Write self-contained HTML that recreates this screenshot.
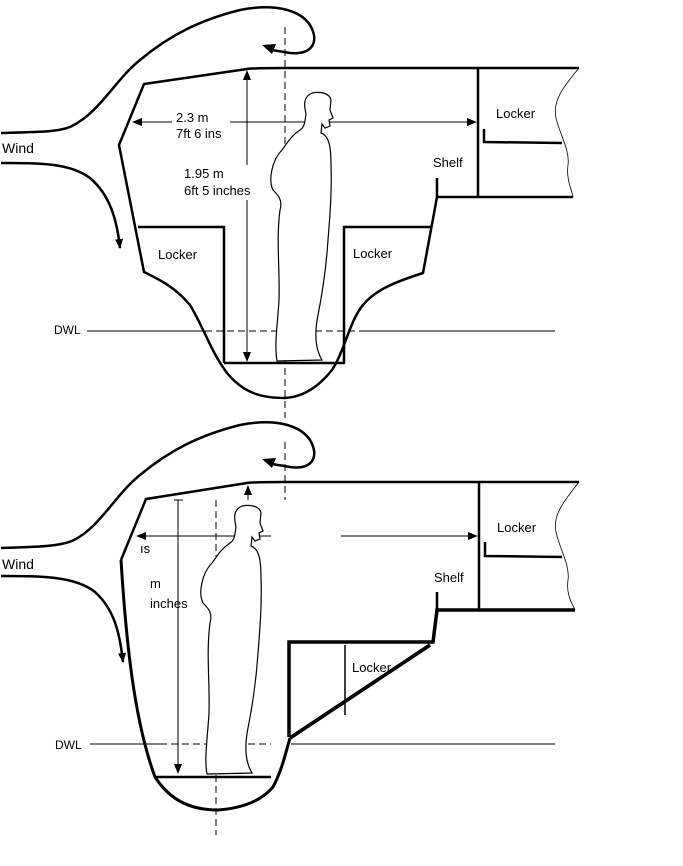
<!DOCTYPE html>
<html><head><meta charset="utf-8"><style>
html,body{margin:0;padding:0;background:#fff;}
svg{display:block;}
text{font-family:"Liberation Sans",Arial,sans-serif;font-size:13px;fill:#000;}
</style></head><body>
<svg width="683" height="866" viewBox="0 0 683 866" xmlns="http://www.w3.org/2000/svg">
<defs>
<marker id="ah" markerWidth="10" markerHeight="8" refX="9" refY="4" orient="auto" markerUnits="userSpaceOnUse">
<path d="M0,0 L10,4 L0,8 Z" fill="#000"/></marker>
<path id="person" d="M312 93 C322 91 330 94 331 100 L330 110 L333 118 L329 120 L330 126 L325 128 L322 124 L321 133 C330 136 331 150 331 165 C332 190 330 215 328 240 C326 270 322 295 318 315 C314 335 316 350 322 360 L277 361 C274 345 278 320 279 300 C280 270 276 240 280 210 C283 200 278 195 273 190 C268 180 272 160 282 150 C288 142 291 136 300 130 C305 127 305 120 306 114 C304 105 303 97 312 93 Z" fill="#fff" stroke="#000" stroke-width="1.2"/>
</defs>

<g fill="none" stroke="#000">
<line x1="285" y1="27" x2="285" y2="418" stroke-width="1" stroke-dasharray="7,4"/>
<path d="M1 133 C40 132 60 132 72 126 C100 112 115 80 140 60 C170 35 200 20 240 10 C275 3 300 10 310 25 C320 42 312 55 290 53 L272 50" stroke-width="2.5"/>
<path d="M262 45 L276 44 L272 54 Z" fill="#000" stroke="none"/>
<path d="M1 163 C40 163 70 163 90 178 C110 195 117 220 120 248" stroke-width="2.5" marker-end="url(#ah)"/>
<path d="M579 68 L284 68 C270 68 255 68 247 69 L144 84 L119 145 L144 272 C160 280 175 287 190 305 C205 330 210 350 227 373 C245 395 265 398 285 398 C305 397 320 385 332 370 C345 350 350 320 363 305 C375 290 395 282 423 273 L437 197 L573 197" stroke-width="2.5"/>
<path d="M437 178 L437 197" stroke-width="2.5"/>
<line x1="478" y1="68" x2="478" y2="197" stroke-width="2.5"/>
<path d="M484 129 L484 142 L562 143" stroke-width="2.5"/>
<path d="M579 68 C565 85 552 100 556 118 C560 135 570 150 568 165 C566 180 572 190 573 197" stroke-width="0.8"/>
<path d="M138 227 L224 227 L224 363" stroke-width="2.5"/>
<path d="M431 227 L344 227 L344 363" stroke-width="2.5"/>
<line x1="224" y1="363" x2="345" y2="363" stroke-width="2.5"/>
<line x1="87" y1="331" x2="205" y2="331" stroke-width="1"/>
<line x1="205" y1="331" x2="363" y2="331" stroke-width="1" stroke-dasharray="7,4"/>
<line x1="363" y1="331" x2="555" y2="331" stroke-width="1"/>
<line x1="172" y1="122" x2="133" y2="122" stroke-width="1" marker-end="url(#ah)"/>
<line x1="230" y1="122" x2="476" y2="122" stroke-width="1" marker-end="url(#ah)"/>
<line x1="247" y1="165" x2="247" y2="71" stroke-width="1" marker-end="url(#ah)"/>
<line x1="247" y1="200" x2="247" y2="361" stroke-width="1" marker-end="url(#ah)"/>
</g>
<use href="#person"/>
<text x="176" y="122">2.3 m</text>
<text x="176" y="138">7ft 6 ins</text>
<text x="184" y="178">1.95 m</text>
<text x="184" y="195">6ft 5 inches</text>
<text x="496" y="118">Locker</text>
<text x="433" y="167">Shelf</text>
<text x="158" y="259">Locker</text>
<text x="353" y="258">Locker</text>
<text x="2" y="153" style="font-size:14px">Wind</text>
<text x="54" y="334" style="font-size:12px">DWL</text>

<g fill="none" stroke="#000">
<line x1="285" y1="442" x2="285" y2="500" stroke-width="1" stroke-dasharray="7,4"/>
<line x1="216" y1="500" x2="216" y2="835" stroke-width="1" stroke-dasharray="7,4"/>
<path d="M1 548 C40 547 62 546 74 540 C100 527 115 495 140 475 C170 450 200 435 240 425 C275 418 300 425 310 440 C320 457 312 470 290 467 L272 464" stroke-width="2.5"/>
<path d="M262 459 L276 458 L272 468 Z" fill="#000" stroke="none"/>
<path d="M1 576 C40 576 75 576 95 592 C115 610 120 635 123 662" stroke-width="2.5" marker-end="url(#ah)"/>
<path d="M579 482 L284 482 C270 482 255 482 247 483 L146 499 L121 560" stroke-width="2.5"/>
<path d="M121 560 C126 640 134 720 155 777 C170 800 190 810 218 810 C245 808 262 800 273 787 C282 770 285 755 290 738" stroke-width="3"/>
<path d="M290 738 L430 645 M289 737 L289 642 L433 642 L437 610 L575 610" stroke-width="3.5"/>
<path d="M437 592 L437 610" stroke-width="2.5"/>
<line x1="479" y1="482" x2="479" y2="610" stroke-width="2.5"/>
<path d="M485 542 L485 556 L562 557" stroke-width="2.5"/>
<path d="M579 482 C565 500 552 515 556 532 C560 550 570 565 568 580 C566 595 572 603 575 610" stroke-width="0.8"/>
<line x1="345" y1="645" x2="345" y2="715" stroke-width="1.5"/>
<line x1="155" y1="777" x2="271" y2="777" stroke-width="2.5"/>
<line x1="90" y1="744" x2="160" y2="744" stroke-width="1"/>
<line x1="160" y1="744" x2="271" y2="744" stroke-width="1" stroke-dasharray="7,4"/>
<line x1="291" y1="744" x2="555" y2="744" stroke-width="1"/>
<line x1="271" y1="536" x2="137" y2="536" stroke-width="1" marker-end="url(#ah)"/>
<line x1="341" y1="536" x2="477" y2="536" stroke-width="1" marker-end="url(#ah)"/>
<line x1="178" y1="500" x2="178" y2="773" stroke-width="1" marker-end="url(#ah)"/>
<line x1="174" y1="500" x2="183" y2="500" stroke-width="1"/>
<line x1="248" y1="500" x2="248" y2="486" stroke-width="1" marker-end="url(#ah)"/>
</g>
<use href="#person" transform="translate(-70,413)"/>
<text x="140" y="553">ıs</text>
<text x="150" y="588">m</text>
<text x="150" y="608">inches</text>
<text x="352" y="672">Locker</text>
<text x="434" y="582">Shelf</text>
<text x="497" y="532">Locker</text>
<text x="2" y="569" style="font-size:14px">Wind</text>
<text x="55" y="749" style="font-size:12px">DWL</text>
<path d="M290 738 L430 645" stroke="#000" stroke-width="3.5"/>
</svg>
</body></html>
